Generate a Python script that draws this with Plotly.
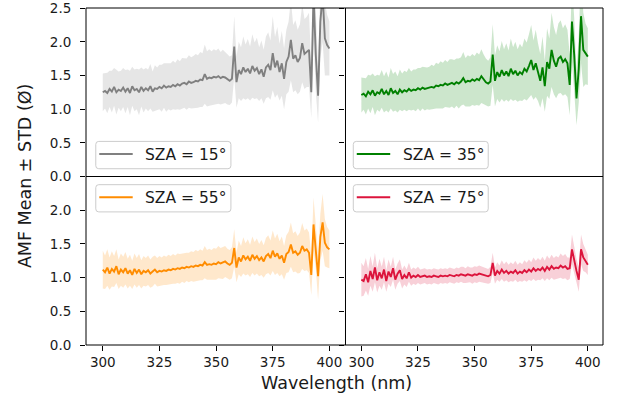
import numpy as np
import plotly.graph_objects as go
from plotly.subplots import make_subplots

wavelength = list(range(300, 401))

labels = ["SZA = 15°", "SZA = 35°", "SZA = 55°", "SZA = 75°"]
colors = ["#808080", "#008000", "#ff8c00", "#dc143c"]
fills = ["rgba(128,128,128,0.2)", "rgba(0,128,0,0.2)", "rgba(255,140,0,0.2)", "rgba(220,20,60,0.2)"]

mean_15 = [1.25, 1.27, 1.24, 1.30, 1.26, 1.33, 1.25, 1.29, 1.27, 1.32,
           1.26, 1.31, 1.24, 1.34, 1.28, 1.30, 1.25, 1.33, 1.27, 1.31,
           1.28, 1.34, 1.26, 1.31, 1.30, 1.33, 1.31, 1.35, 1.32, 1.34,
           1.33, 1.36, 1.34, 1.37, 1.35, 1.38, 1.39, 1.37, 1.41, 1.39,
           1.40, 1.42, 1.41, 1.44, 1.43, 1.52, 1.45, 1.47, 1.46, 1.48,
           1.47, 1.49, 1.46, 1.48, 1.47, 1.44, 1.42, 1.45, 1.93, 1.40,
           1.58, 1.52, 1.62, 1.55, 1.60, 1.53, 1.64, 1.57, 1.61, 1.52,
           1.59, 1.48, 1.62, 1.66, 1.58, 1.83, 1.62, 1.72, 1.55, 1.68,
           1.45, 1.70, 1.78, 2.03, 1.75, 1.80, 1.70, 1.76, 1.98, 1.82,
           1.85, 1.88, 1.25, 2.70, 1.80, 1.20, 2.30, 2.70, 2.05, 1.95, 1.90]
std_15 = [0.28, 0.26, 0.30, 0.27, 0.31, 0.28, 0.33, 0.27, 0.30, 0.29,
          0.32, 0.28, 0.33, 0.29, 0.31, 0.30, 0.34, 0.29, 0.32, 0.30,
          0.31, 0.33, 0.30, 0.34, 0.32, 0.33, 0.35, 0.33, 0.36, 0.34,
          0.35, 0.36, 0.35, 0.37, 0.36, 0.38, 0.37, 0.38, 0.39, 0.38,
          0.39, 0.40, 0.39, 0.41, 0.40, 0.44, 0.41, 0.42, 0.40, 0.41,
          0.40, 0.41, 0.39, 0.40, 0.38, 0.37, 0.36, 0.35, 0.45, 0.38,
          0.42, 0.40, 0.46, 0.41, 0.44, 0.40, 0.47, 0.42, 0.45, 0.40,
          0.43, 0.40, 0.46, 0.48, 0.44, 0.55, 0.45, 0.50, 0.42, 0.48,
          0.45, 0.48, 0.52, 0.60, 0.50, 0.52, 0.48, 0.50, 0.58, 0.52,
          0.52, 0.55, 0.38, 0.65, 0.55, 0.40, 0.55, 0.70, 0.55, 0.45, 0.40]

mean_35 = [1.21, 1.23, 1.19, 1.26, 1.22, 1.28, 1.20, 1.25, 1.23, 1.30,
           1.22, 1.27, 1.21, 1.31, 1.24, 1.27, 1.22, 1.29, 1.25, 1.28,
           1.26, 1.30, 1.27, 1.29, 1.28, 1.31, 1.29, 1.32, 1.30, 1.31,
           1.31, 1.33, 1.32, 1.35, 1.34, 1.36, 1.35, 1.38, 1.36, 1.38,
           1.39, 1.37, 1.40, 1.38, 1.41, 1.46, 1.40, 1.42, 1.41, 1.44,
           1.42, 1.45, 1.43, 1.49, 1.44, 1.40, 1.38, 1.41, 1.81, 1.42,
           1.55, 1.48, 1.58, 1.50, 1.56, 1.49, 1.60, 1.52, 1.57, 1.50,
           1.55, 1.52, 1.60, 1.56, 1.64, 1.73, 1.58, 1.68, 1.55, 1.42,
           1.62, 1.34, 1.70, 1.60, 1.88, 1.72, 1.63, 1.75, 1.78, 1.70,
           1.74, 1.68, 1.36, 2.30, 1.80, 1.16, 1.60, 2.38, 1.88, 1.82, 1.78]
std_35 = [0.26, 0.24, 0.27, 0.25, 0.28, 0.25, 0.29, 0.26, 0.27, 0.28,
          0.27, 0.29, 0.26, 0.30, 0.28, 0.29, 0.27, 0.30, 0.28, 0.29,
          0.29, 0.31, 0.29, 0.30, 0.31, 0.30, 0.32, 0.31, 0.32, 0.31,
          0.32, 0.33, 0.32, 0.34, 0.33, 0.35, 0.34, 0.35, 0.34, 0.36,
          0.35, 0.36, 0.35, 0.37, 0.36, 0.39, 0.36, 0.38, 0.37, 0.38,
          0.37, 0.39, 0.38, 0.40, 0.37, 0.35, 0.34, 0.36, 0.45, 0.38,
          0.40, 0.38, 0.43, 0.39, 0.42, 0.38, 0.45, 0.40, 0.43, 0.39,
          0.42, 0.40, 0.45, 0.43, 0.47, 0.52, 0.44, 0.50, 0.43, 0.40,
          0.46, 0.38, 0.50, 0.45, 0.55, 0.50, 0.47, 0.52, 0.54, 0.50,
          0.52, 0.50, 0.45, 0.60, 0.55, 0.40, 0.50, 0.70, 0.55, 0.45, 0.42]

mean_55 = [1.12, 1.08, 1.15, 1.06, 1.13, 1.09, 1.17, 1.05, 1.12, 1.08,
           1.14, 1.06, 1.11, 1.04, 1.13, 1.07, 1.12, 1.05, 1.10, 1.08,
           1.11, 1.06, 1.09, 1.12, 1.08, 1.10, 1.09, 1.11, 1.10, 1.12,
           1.11, 1.13, 1.12, 1.14, 1.13, 1.15, 1.14, 1.16, 1.15, 1.17,
           1.16, 1.18, 1.17, 1.19, 1.18, 1.23, 1.19, 1.20, 1.19, 1.21,
           1.20, 1.23, 1.21, 1.22, 1.24, 1.21, 1.19, 1.22, 1.44, 1.15,
           1.30, 1.24, 1.33, 1.27, 1.31, 1.25, 1.34, 1.28, 1.32, 1.26,
           1.30, 1.24, 1.32, 1.35, 1.29, 1.40, 1.31, 1.36, 1.28, 1.33,
           1.22, 1.35, 1.38, 1.49, 1.37, 1.39, 1.34, 1.37, 1.47, 1.40,
           1.42, 1.37, 1.04, 1.79, 1.45, 1.02, 1.60, 1.82, 1.52, 1.45, 1.42]
std_55 = [0.28, 0.25, 0.27, 0.24, 0.26, 0.23, 0.25, 0.22, 0.24, 0.23,
          0.24, 0.22, 0.23, 0.21, 0.23, 0.22, 0.23, 0.21, 0.22, 0.21,
          0.22, 0.21, 0.22, 0.21, 0.21, 0.22, 0.21, 0.22, 0.21, 0.22,
          0.21, 0.22, 0.21, 0.22, 0.22, 0.21, 0.22, 0.21, 0.22, 0.22,
          0.22, 0.23, 0.22, 0.23, 0.22, 0.24, 0.22, 0.23, 0.22, 0.23,
          0.23, 0.24, 0.23, 0.24, 0.23, 0.22, 0.22, 0.23, 0.28, 0.22,
          0.25, 0.23, 0.27, 0.24, 0.26, 0.24, 0.27, 0.25, 0.26, 0.24,
          0.26, 0.24, 0.27, 0.28, 0.26, 0.30, 0.27, 0.29, 0.26, 0.28,
          0.25, 0.28, 0.30, 0.33, 0.29, 0.30, 0.28, 0.30, 0.34, 0.30,
          0.31, 0.30, 0.30, 0.40, 0.32, 0.35, 0.35, 0.42, 0.35, 0.30, 0.28]

mean_75 = [0.97, 0.95, 1.05, 0.93, 1.10, 0.98, 1.15, 0.96, 1.08, 0.99,
           1.12, 0.95, 1.09, 1.01, 1.14, 0.97, 1.06, 1.11, 0.98, 1.04,
           0.99, 1.08, 1.00, 1.03, 1.01, 1.04, 1.01, 1.02, 1.03, 1.01,
           1.02, 1.01, 1.03, 1.02, 1.01, 1.03, 1.02, 1.03, 1.02, 1.04,
           1.03, 1.02, 1.04, 1.03, 1.05, 1.04, 1.03, 1.05, 1.04, 1.03,
           1.05, 1.04, 1.06, 1.05, 1.04, 1.03, 1.02, 1.04, 1.22, 1.03,
           1.10, 1.06, 1.12, 1.07, 1.10, 1.06, 1.09, 1.07, 1.11, 1.06,
           1.09, 1.07, 1.11, 1.08, 1.12, 1.09, 1.14, 1.10, 1.13, 1.11,
           1.15, 1.10, 1.16, 1.12, 1.17, 1.13, 1.15, 1.14, 1.18, 1.15,
           1.17, 1.13, 1.14, 1.42, 1.25, 1.10, 0.97, 1.42, 1.30, 1.25, 1.19]
std_75 = [0.25, 0.22, 0.24, 0.20, 0.22, 0.19, 0.22, 0.18, 0.20, 0.17,
          0.19, 0.16, 0.18, 0.15, 0.17, 0.15, 0.15, 0.16, 0.14, 0.14,
          0.13, 0.14, 0.12, 0.12, 0.12, 0.12, 0.11, 0.11, 0.11, 0.11,
          0.11, 0.11, 0.11, 0.11, 0.11, 0.11, 0.11, 0.11, 0.11, 0.11,
          0.11, 0.11, 0.11, 0.11, 0.11, 0.12, 0.11, 0.12, 0.11, 0.12,
          0.12, 0.12, 0.12, 0.12, 0.12, 0.12, 0.11, 0.12, 0.15, 0.12,
          0.13, 0.12, 0.14, 0.13, 0.14, 0.13, 0.14, 0.13, 0.14, 0.13,
          0.14, 0.13, 0.15, 0.14, 0.15, 0.14, 0.16, 0.15, 0.16, 0.15,
          0.16, 0.15, 0.17, 0.16, 0.17, 0.16, 0.17, 0.16, 0.18, 0.17,
          0.18, 0.17, 0.16, 0.22, 0.20, 0.18, 0.18, 0.22, 0.20, 0.17, 0.15]

means = [mean_15, mean_35, mean_55, mean_75]
stds = [std_15, std_35, std_55, std_75]

x_ticks = [300, 325, 350, 375, 400]
y_ticks_top = [0.0, 0.5, 1.0, 1.5, 2.0, 2.5]
y_ticks_bottom = [0.0, 0.5, 1.0, 1.5, 2.0]

FONT = "DejaVu Sans"
TXT = "#1a1a1a"

W, H = 619, 403
L, R, T, B = 85.5, 15.5, 7.5, 57.5
pw, ph = W - L - R, H - T - B
XMID = (345.5 - L) / pw   # vertical separator in paper coords
YMID = 0.5

def px(xp):
    return (xp - L) / pw

def py(yp):
    return (H - B - yp) / ph

fig = make_subplots(rows=2, cols=2, horizontal_spacing=0, vertical_spacing=0)
positions = [(1, 1), (1, 2), (2, 1), (2, 2)]

x = np.array(wavelength, dtype=float)
for i, (r, c) in enumerate(positions):
    m = np.array(means[i])
    s = np.array(stds[i])
    fig.add_trace(go.Scatter(x=x, y=m + s, mode="lines", line=dict(width=0, color=fills[i]),
                             showlegend=False, hoverinfo="skip"), row=r, col=c)
    fig.add_trace(go.Scatter(x=x, y=m - s, mode="lines", line=dict(width=0, color=fills[i]),
                             fill="tonexty", fillcolor=fills[i], showlegend=False,
                             hoverinfo="skip"), row=r, col=c)
    fig.add_trace(go.Scatter(x=x, y=m, mode="lines", name=labels[i], showlegend=False,
                             line=dict(width=1.9, color=colors[i])), row=r, col=c)

axis_common = dict(showline=False, showgrid=False, zeroline=False, automargin=False,
                   tickfont=dict(family=FONT, size=13.5, color=TXT),
                   tickcolor="black", ticklen=5, tickwidth=1, ticklabeloverflow="allow")

x_ranges = {1: [292.6, 407.1], 2: [293.0, 406.7]}
x_domains = {1: [0, XMID], 2: [XMID, 1]}
y_domains = {1: [YMID, 1], 2: [0, YMID]}

for (r, c) in positions:
    fig.update_xaxes(range=x_ranges[c], domain=x_domains[c], tickvals=x_ticks,
                     ticktext=[str(t) for t in x_ticks],
                     ticks="outside" if r == 2 else "",
                     showticklabels=(r == 2), row=r, col=c, **axis_common)
    yt = y_ticks_top if r == 1 else y_ticks_bottom
    fig.update_yaxes(range=[0, 2.5015], domain=y_domains[r], tickvals=yt,
                     ticktext=["%.1f" % v for v in yt],
                     ticks="outside", showticklabels=(c == 1),
                     ticklabelstandoff=6, row=r, col=c, **axis_common)

shapes = []
frame = dict(type="line", xref="paper", yref="paper", line=dict(color="black", width=1), layer="above")
shapes.append(dict(type="rect", xref="paper", yref="paper", x0=0, x1=1, y0=0, y1=1,
                   line=dict(color="black", width=1), layer="above"))
shapes.append(dict(frame, x0=XMID, x1=XMID, y0=0, y1=1))
shapes.append(dict(frame, x0=0, x1=1, y0=YMID, y1=YMID))

legend_boxes = [(95.3, 230.7, 141.3, 168.7), (353.3, 488.5, 141.3, 168.7),
                (95.3, 230.7, 184.7, 212.0), (353.3, 488.5, 184.7, 212.0)]

def rounded_rect(x0, x1, y0, y1, rad=3.0):
    def P(xp, yp):
        return "%f,%f" % (px(xp), py(yp))
    return ("M " + P(x0 + rad, y0) + " L " + P(x1 - rad, y0) + " Q " + P(x1, y0) + " " + P(x1, y0 + rad) +
            " L " + P(x1, y1 - rad) + " Q " + P(x1, y1) + " " + P(x1 - rad, y1) +
            " L " + P(x0 + rad, y1) + " Q " + P(x0, y1) + " " + P(x0, y1 - rad) +
            " L " + P(x0, y0 + rad) + " Q " + P(x0, y0) + " " + P(x0 + rad, y0) + " Z")

annotations = []
for i, (bx0, bx1, by0, by1) in enumerate(legend_boxes):
    shapes.append(dict(type="path", xref="paper", yref="paper", path=rounded_rect(bx0, bx1, by0, by1),
                       fillcolor="rgba(255,255,255,0.8)", line=dict(color="#cccccc", width=1),
                       layer="above"))
    yc = (by0 + by1) / 2 - 1.0
    shapes.append(dict(type="line", xref="paper", yref="paper", x0=px(bx0 + 3.5), x1=px(bx0 + 37),
                       y0=py(yc), y1=py(yc), line=dict(color=colors[i], width=2), layer="above"))
    annotations.append(dict(text=labels[i], x=px(bx0 + 47.5), y=py(yc + 0.5), xref="paper", yref="paper",
                            showarrow=False, xanchor="left", yanchor="middle",
                            font=dict(family=FONT, size=15.5, color=TXT)))

annotations += [
    dict(text="Wavelength (nm)", x=px(336), y=py(384), xref="paper", yref="paper",
         showarrow=False, font=dict(family=FONT, size=17.5, color=TXT),
         xanchor="center", yanchor="middle"),
    dict(text="AMF Mean ± STD (Ø)", x=px(24), y=py(176.5), xref="paper", yref="paper",
         showarrow=False, textangle=-90, font=dict(family=FONT, size=17.5, color=TXT),
         xanchor="center", yanchor="middle"),
]

fig.update_layout(
    width=W, height=H,
    margin=dict(l=L, r=R, t=T, b=B, autoexpand=False),
    plot_bgcolor="white", paper_bgcolor="white",
    font=dict(family=FONT, color=TXT),
    showlegend=False,
    shapes=shapes,
    annotations=annotations,
)

fig.write_html("out.html", config={"displayModeBar": False},
               post_script="document.body.style.margin='0';")
